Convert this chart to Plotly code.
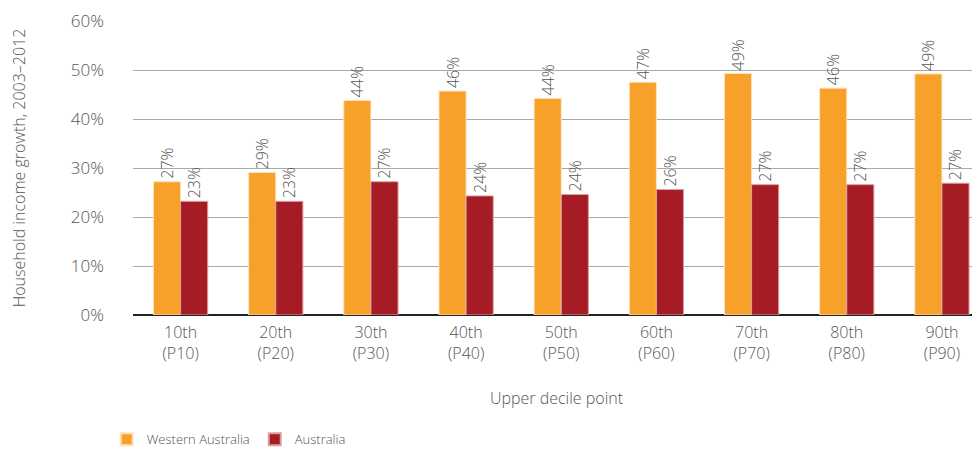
import plotly.graph_objects as go

categories = ["10th<br>(P10)", "20th<br>(P20)", "30th<br>(P30)", "40th<br>(P40)", "50th<br>(P50)",
              "60th<br>(P60)", "70th<br>(P70)", "80th<br>(P80)", "90th<br>(P90)"]
wa_values = [27.2, 29.1, 43.8, 45.7, 44.2, 47.5, 49.3, 46.3, 49.2]
aus_values = [23.2, 23.2, 27.2, 24.3, 24.6, 25.6, 26.6, 26.6, 26.9]
wa_labels = ["27%", "29%", "44%", "46%", "44%", "47%", "49%", "46%", "49%"]
aus_labels = ["23%", "23%", "27%", "24%", "24%", "26%", "27%", "27%", "27%"]

FONT = "Open Sans"
GREY = "#555555"

fig = go.Figure()
fig.add_trace(go.Bar(
    x=categories, y=wa_values, name="Western Australia",
    marker=dict(color="#F7A12A", line=dict(color="#FCE3C0", width=1)),
    text=wa_labels, textposition="outside", textangle=-90,
    textfont=dict(family=FONT, size=16, color=GREY, weight=300), cliponaxis=False,
))
fig.add_trace(go.Bar(
    x=categories, y=aus_values, name="Australia",
    marker=dict(color="#A51C24", line=dict(color="#D9A0A3", width=1)),
    text=aus_labels, textposition="outside", textangle=-90,
    textfont=dict(family=FONT, size=16, color=GREY, weight=300), cliponaxis=False,
))

fig.update_layout(
    width=972, height=441,
    margin=dict(l=125, r=0, t=13, b=134),
    plot_bgcolor="white", paper_bgcolor="white",
    barmode="group", bargap=0.43, bargroupgap=0,
    font=dict(family=FONT, size=16, color=GREY, weight=300),
    uniformtext=dict(minsize=16, mode="show"),
    showlegend=True,
    legend=dict(orientation="h", x=-0.031, xref="paper", y=0.022, yref="container",
                xanchor="left", yanchor="middle",
                font=dict(family=FONT, size=13, color=GREY, weight=300), traceorder="normal",
                itemwidth=30, itemsizing="constant"),
    xaxis=dict(
        range=[-0.5, 8.4], showgrid=False, ticks="", showline=False, automargin=False,
        tickfont=dict(family=FONT, size=16, color=GREY, weight=300),
        ticklabelstandoff=6,
        title=dict(text="Upper decile point", font=dict(family=FONT, size=16, color=GREY, weight=300), standoff=30),
    ),
    yaxis=dict(
        range=[0, 60], dtick=10, ticksuffix="%", automargin=False,
        showgrid=True, gridcolor="#AAAAAA", gridwidth=1,
        zeroline=True, zerolinecolor="#222222", zerolinewidth=2,
        tickfont=dict(family=FONT, size=17, color=GREY, weight=300),
        ticklabelstandoff=28,
        title=dict(text="Household income growth, 2003–2012", font=dict(family=FONT, size=16, color=GREY, weight=300), standoff=44),
    ),
)

fig.write_html("out.html")
